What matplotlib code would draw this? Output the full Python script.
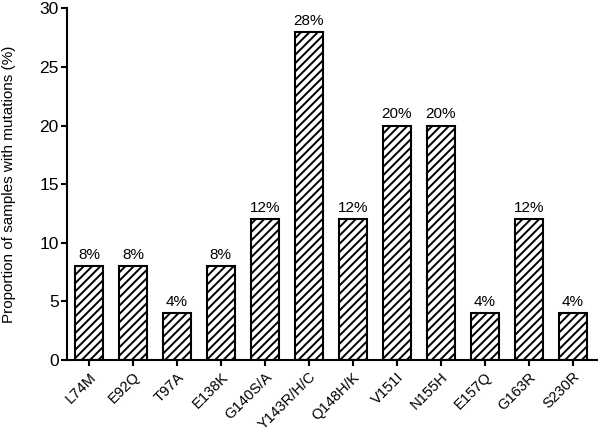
import matplotlib
matplotlib.use("Agg")
import matplotlib.pyplot as plt

plt.rcParams['font.family'] = ['Liberation Sans', 'DejaVu Sans']
plt.rcParams['hatch.linewidth'] = 1.4

mutations = ['L74M', 'E92Q', 'T97A', 'E138K', 'G140S/A', 'Y143R/H/C',
             'Q148H/K', 'V151I', 'N155H', 'E157Q', 'G163R', 'S230R']
proportions = [8, 8, 4, 8, 12, 28, 12, 20, 20, 4, 12, 4]

fig = plt.figure(figsize=(5.98, 4.32), dpi=100)
ax = fig.add_axes([0.112, 0.1667, 0.886, 0.814])

x = range(len(mutations))
ax.bar(x, proportions, width=0.64, color='white', edgecolor='black',
       linewidth=1.5, hatch='////')

for i, v in zip(x, proportions):
    ax.text(i, v + 0.35, f'{v}%', ha='center', va='bottom', fontsize=11)

ax.set_xlim(-0.5, 11.55)
ax.set_ylim(0, 30)
ax.set_yticks([0, 5, 10, 15, 20, 25, 30])
ax.set_xticks(list(x))
ax.set_xticklabels(mutations, rotation=45, ha='right', rotation_mode='anchor',
                   fontsize=10.6)
ax.tick_params(axis='y', labelsize=12.5, width=1.5, length=4, pad=2)
ax.tick_params(axis='x', width=1.5, length=4, pad=3)
ax.set_ylabel('Proportion of samples with mutations (%)', fontsize=11, labelpad=17)

for s in ['top', 'right']:
    ax.spines[s].set_visible(False)
for s in ['left', 'bottom']:
    ax.spines[s].set_linewidth(1.5)

fig.savefig('out.png', dpi=100)
